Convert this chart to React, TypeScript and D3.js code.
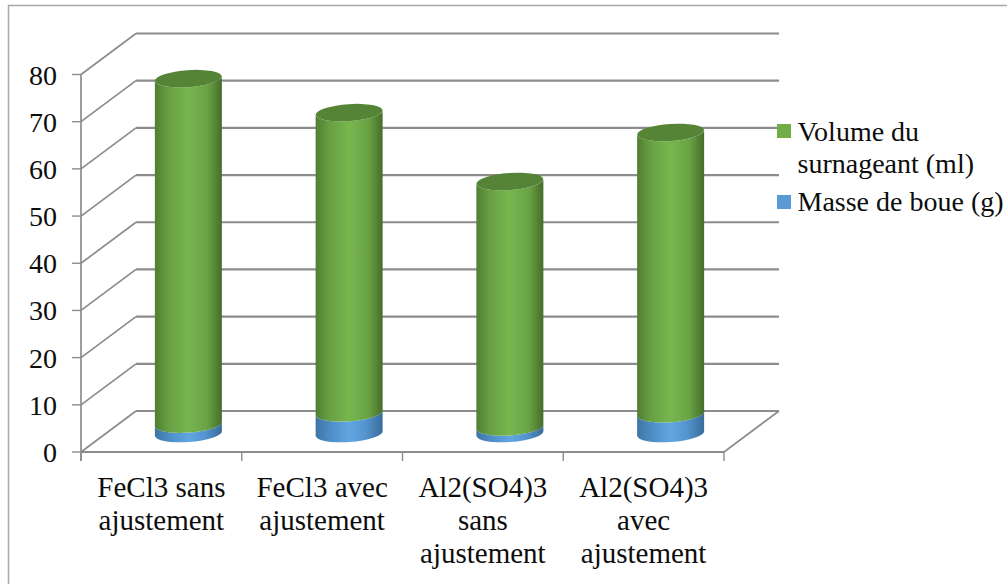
import React from "react";
import * as d3 from "d3";

const categories: string[][] = [
  ["FeCl3 sans", "ajustement"],
  ["FeCl3 avec", "ajustement"],
  ["Al2(SO4)3", "sans", "ajustement"],
  ["Al2(SO4)3", "avec", "ajustement"],
];
const masseBoue = [2, 4.4, 1.4, 4.2];
const volumeSurnageant = [73.2, 63.6, 52, 59.6];
const yTicks = [0, 10, 20, 30, 40, 50, 60, 70, 80];
const legendItems = [
  { lines: ["Volume du", "surnageant (ml)"], color: "#70ad47", top: 124, baselines: [141, 173] },
  { lines: ["Masse de boue (g)"], color: "#5b9bd5", top: 195, baselines: [211] },
];

const FONT = "'Liberation Serif', serif";
const GRID = "#8c8c8c";
const INK = "#0d0d0d";
const FONT_SIZE = 28;
const DEPTH_X = 55;
const DEPTH_Y = -41;
const RX = 33.5;
const RY = 8.5;
const TILT = -4;

const x = d3.scaleBand<number>().domain(d3.range(4)).range([81, 724]);
const y = d3.scaleLinear().domain([0, 80]).range([452, 74.5]);
const bandCenter = (i: number) => (x(i) as number) + x.bandwidth() / 2 + 27;
const baseShift = -18.5;

// Side of a tilted cylinder: front arc at the bottom, front arc at the top
function cylinderPath(cx: number, yBottom: number, yTop: number) {
  const dy = RX * Math.tan((TILT * Math.PI) / 180);
  return [
    `M${cx - RX},${yTop - dy}`,
    `A${RX},${RY} ${TILT} 0 0 ${cx + RX},${yTop + dy}`,
    `L${cx + RX},${yBottom + dy}`,
    `A${RX},${RY} ${TILT} 0 1 ${cx - RX},${yBottom - dy}`,
    "Z",
  ].join(" ");
}

export default function App() {
  const gridLines = yTicks.map((t) => ({ t, yy: y(t) }));
  return (
    <svg
      width={1007}
      height={584}
      style={{ position: "absolute", left: 0, top: 0, background: "#fff" }}
      fontFamily={FONT}
    >
      <defs>
        <linearGradient id="greenSide" x1="0" x2="1" y1="0" y2="0">
          <stop offset="0" stopColor="#4f7e32" />
          <stop offset="0.2" stopColor="#689f43" />
          <stop offset="0.5" stopColor="#77b64f" />
          <stop offset="0.78" stopColor="#6aa344" />
          <stop offset="1" stopColor="#456d2b" />
        </linearGradient>
        <linearGradient id="blueSide" x1="0" x2="1" y1="0" y2="0">
          <stop offset="0" stopColor="#3f75a5" />
          <stop offset="0.25" stopColor="#5090ca" />
          <stop offset="0.5" stopColor="#61a6e2" />
          <stop offset="0.75" stopColor="#5494ce" />
          <stop offset="1" stopColor="#3a6c99" />
        </linearGradient>
      </defs>

      <path d="M8.5,584 V5.5 H1007" fill="none" stroke="#a8a8a8" strokeWidth={1.5} />

      {/* side wall, back wall and floor */}
      {gridLines.map(({ t, yy }) => (
        <g key={t}>
          <line x1={81} y1={yy} x2={81 + DEPTH_X} y2={yy + DEPTH_Y} stroke={GRID} strokeWidth={1.7} />
          <line x1={81 + DEPTH_X} y1={yy + DEPTH_Y} x2={724 + DEPTH_X} y2={yy + DEPTH_Y} stroke={GRID} strokeWidth={2.2} />
          <line x1={72} y1={yy} x2={81} y2={yy} stroke={GRID} strokeWidth={1.4} />
          <text x={57} y={yy + 10} fontSize={FONT_SIZE} textAnchor="end" fill={INK}>
            {t}
          </text>
        </g>
      ))}
      <line x1={81} y1={y(80)} x2={81} y2={y(0) + 9} stroke={GRID} strokeWidth={1.7} />
      <line x1={81} y1={y(0)} x2={724} y2={y(0)} stroke={GRID} strokeWidth={2.2} />
      <line x1={724} y1={y(0)} x2={724 + DEPTH_X} y2={y(0) + DEPTH_Y} stroke={GRID} strokeWidth={1.7} />
      {d3.range(5).map((i) => {
        const tx = 81 + i * x.bandwidth();
        return <line key={i} x1={tx} y1={y(0)} x2={tx} y2={y(0) + 9} stroke={GRID} strokeWidth={1.4} />;
      })}

      {/* stacked cylinders */}
      {categories.map((_, i) => {
        const cx = bandCenter(i);
        const y0 = y(0) + baseShift;
        const y1 = y(masseBoue[i]) + baseShift;
        const y2 = y(masseBoue[i] + volumeSurnageant[i]) + baseShift;
        return (
          <g key={i}>
            <path d={cylinderPath(cx, y0, y1)} fill="url(#blueSide)" />
            <path d={cylinderPath(cx, y1, y2)} fill="url(#greenSide)" />
            <ellipse
              cx={cx}
              cy={y2}
              rx={RX}
              ry={RY}
              transform={`rotate(${TILT} ${cx} ${y2})`}
              fill="#558436"
            />
          </g>
        );
      })}

      {/* category labels */}
      {categories.map((lines, i) => (
        <text key={i} fontSize={29} textAnchor="middle" fill={INK}>
          {lines.map((l, j) => (
            <tspan key={j} x={(x(i) as number) + x.bandwidth() / 2} y={497 + j * 33}>
              {l}
            </tspan>
          ))}
        </text>
      ))}

      {/* legend */}
      {legendItems.map((item, i) => (
        <g key={i}>
          <rect x={777} y={item.top} width={14} height={14} fill={item.color} />
          {item.lines.map((l, j) => (
            <text key={j} x={797.5} y={item.baselines[j]} fontSize={FONT_SIZE} fill={INK}>
              {l}
            </text>
          ))}
        </g>
      ))}
    </svg>
  );
}
